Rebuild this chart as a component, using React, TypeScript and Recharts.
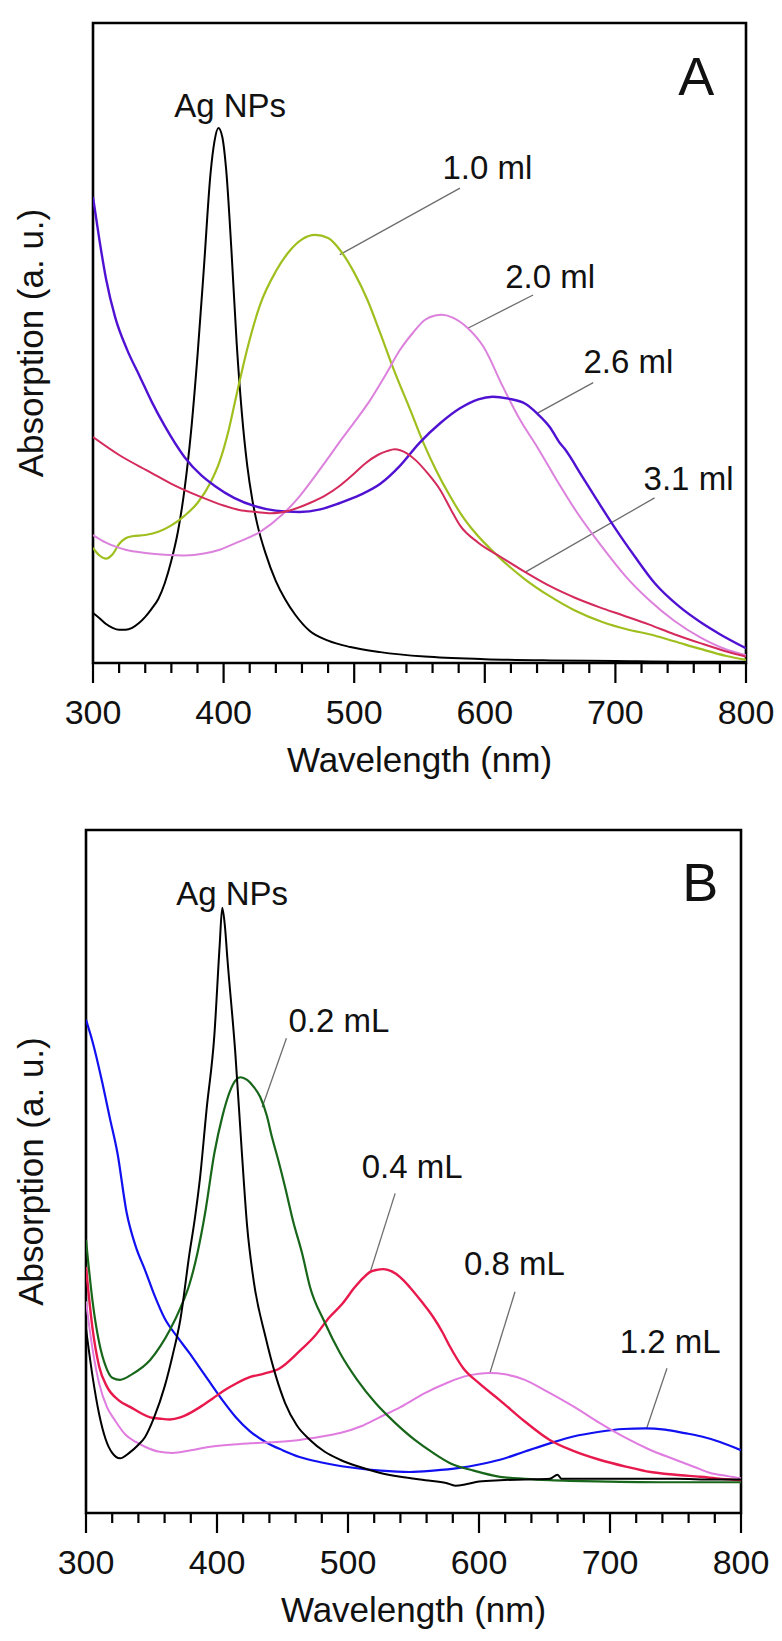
import React from 'react'
import { LineChart, Line, XAxis, YAxis, ReferenceArea, ReferenceLine, ReferenceDot } from 'recharts'

const FONT = '"Liberation Sans", Arial, Helvetica, sans-serif'

// x axis ticks (nm)
const MAJOR_TICKS = [300, 400, 500, 600, 700, 800]
const ALL_TICKS = [
  300, 320, 340, 360, 380, 400, 420, 440, 460, 480, 500, 520, 540, 560, 580, 600,
  620, 640, 660, 680, 700, 720, 740, 760, 780, 800,
]

// ---- panel A : spectra (wavelength nm / absorption a.u.) ----
const A_AG_NM = [300, 305, 310, 315, 320, 325, 330, 335, 340, 345, 350, 355, 360, 365, 370, 375, 380, 385, 390, 393, 396, 399, 402, 406, 410, 414, 418, 422, 426, 432, 440, 447, 455, 466, 480, 497, 520, 554, 600, 650, 700, 750, 800]
const A_AG_ABS = [0.078, 0.07, 0.061, 0.055, 0.052, 0.052, 0.055, 0.062, 0.072, 0.085, 0.1, 0.125, 0.16, 0.205, 0.27, 0.36, 0.48, 0.62, 0.765, 0.815, 0.836, 0.822, 0.77, 0.645, 0.5, 0.39, 0.31, 0.255, 0.215, 0.172, 0.128, 0.1, 0.075, 0.05, 0.035, 0.025, 0.017, 0.01, 0.006, 0.004, 0.003, 0.002, 0.002]

const A_10_NM = [300, 305, 310, 315, 320, 325, 330, 340, 350, 360, 370, 380, 390, 397, 404, 410, 418, 428, 440, 451, 460, 470, 480, 490, 500, 510, 520, 530, 543, 553, 563, 573, 582, 592, 610, 630, 650, 669, 690, 710, 726, 745, 765, 785, 800]
const A_10_ABS = [0.18, 0.168, 0.163, 0.17, 0.186, 0.195, 0.198, 0.2, 0.205, 0.215, 0.23, 0.25, 0.282, 0.315, 0.365, 0.42, 0.49, 0.56, 0.612, 0.645, 0.662, 0.669, 0.664, 0.643, 0.61, 0.568, 0.515, 0.46, 0.395, 0.344, 0.3, 0.262, 0.232, 0.205, 0.167, 0.132, 0.104, 0.082, 0.064, 0.052, 0.045, 0.034, 0.022, 0.011, 0.005]

const A_20_NM = [300, 310, 325, 340, 355, 370, 385, 397, 410, 428, 445, 458, 470, 480, 489, 500, 512, 524, 535, 545, 554, 562, 567, 575, 586, 599, 614, 627, 640, 655, 671, 690, 708, 726, 745, 765, 785, 800]
const A_20_ABS = [0.2, 0.188, 0.177, 0.172, 0.169, 0.168, 0.171, 0.177, 0.188, 0.205, 0.232, 0.26, 0.292, 0.32, 0.346, 0.376, 0.41, 0.45, 0.489, 0.516, 0.536, 0.543, 0.544, 0.54, 0.525, 0.494, 0.431, 0.38, 0.338, 0.286, 0.234, 0.181, 0.135, 0.098, 0.066, 0.04, 0.021, 0.012]

const A_26_NM = [300, 305, 310, 317, 326, 336, 345, 355, 370, 383, 393, 408, 424, 440, 458, 474, 489, 505, 520, 535, 550, 566, 581, 595, 606, 618, 631, 640, 650, 657, 661, 675, 688, 700, 715, 730, 749, 765, 780, 800]
const A_26_ABS = [0.728, 0.66, 0.6, 0.54, 0.49, 0.447, 0.408, 0.37, 0.322, 0.293, 0.277, 0.258, 0.245, 0.238, 0.236, 0.24, 0.25, 0.263, 0.28, 0.308, 0.344, 0.375, 0.398, 0.412, 0.416, 0.413, 0.405, 0.39, 0.368, 0.345, 0.335, 0.29, 0.248, 0.21, 0.166, 0.125, 0.088, 0.064, 0.045, 0.023]

const A_31_NM = [300, 320, 344, 362, 382, 400, 412, 425, 436, 450, 466, 478, 489, 500, 508, 518, 525, 531, 540, 547, 556, 566, 574, 581, 595, 612, 631, 650, 669, 688, 705, 726, 745, 765, 785, 800]
const A_31_ABS = [0.353, 0.325, 0.298, 0.278, 0.26, 0.246, 0.239, 0.236, 0.234, 0.238, 0.25, 0.262, 0.277, 0.296, 0.311, 0.325, 0.331, 0.334, 0.328, 0.317, 0.297, 0.27, 0.24, 0.215, 0.188, 0.166, 0.142, 0.12, 0.102, 0.087, 0.075, 0.06, 0.045, 0.031, 0.018, 0.01]

// ---- panel B ----
const B_AG_NM = [300, 305, 310, 315, 320, 326, 333, 340, 345, 352, 360, 366, 372, 379, 383, 387, 392, 398, 402, 404, 406, 408, 414, 419, 423, 428, 437, 445, 452, 461, 471, 482, 494, 508, 524, 540, 559, 575, 582, 590, 600, 616, 635, 654, 660, 663, 690, 720, 750, 780, 800]
const B_AG_ABS = [0.27, 0.2, 0.145, 0.108, 0.088, 0.08, 0.088, 0.1, 0.111, 0.14, 0.185, 0.23, 0.283, 0.38, 0.43, 0.49, 0.59, 0.7, 0.83, 0.886, 0.86, 0.81, 0.673, 0.527, 0.42, 0.34, 0.258, 0.2, 0.161, 0.128, 0.107, 0.09, 0.078, 0.068, 0.059, 0.053, 0.048, 0.044, 0.04, 0.042, 0.046, 0.048, 0.049, 0.05, 0.056, 0.05, 0.05, 0.05, 0.05, 0.049, 0.049]

const B_02_NM = [300, 305, 310, 315, 320, 326, 335, 349, 357, 364, 372, 379, 385, 391, 398, 404, 410, 414, 418, 423, 428, 433, 438, 442, 447, 452, 458, 465, 471, 482, 494, 507, 521, 536, 551, 565, 578, 596, 616, 635, 654, 700, 750, 800]
const B_02_ABS = [0.4, 0.31, 0.25, 0.215, 0.198, 0.195, 0.203, 0.224, 0.245, 0.268, 0.3, 0.335, 0.38, 0.44, 0.527, 0.58, 0.618, 0.633, 0.638, 0.634, 0.624, 0.609, 0.582, 0.55, 0.515, 0.477, 0.428, 0.38, 0.331, 0.28, 0.234, 0.195, 0.161, 0.132, 0.107, 0.088, 0.073, 0.062, 0.053, 0.05, 0.048, 0.046, 0.045, 0.045]

const B_04_NM = [300, 305, 310, 316, 325, 334, 342, 349, 357, 364, 372, 380, 387, 397, 406, 415, 425, 436, 448, 463, 475, 486, 496, 505, 512, 517, 522, 527, 533, 540, 547, 556, 565, 572, 578, 588, 600, 616, 635, 654, 672, 692, 712, 731, 750, 769, 785, 800]
const B_04_ABS = [0.36, 0.27, 0.215, 0.185, 0.165, 0.155, 0.146, 0.14, 0.138, 0.137, 0.14, 0.147, 0.155, 0.168, 0.18, 0.19, 0.199, 0.204, 0.212, 0.237, 0.26, 0.287, 0.307, 0.33, 0.345, 0.353, 0.356, 0.357, 0.354, 0.345, 0.331, 0.31, 0.287, 0.265, 0.243, 0.212, 0.19, 0.165, 0.134, 0.107, 0.091, 0.078, 0.068, 0.06, 0.056, 0.053, 0.05, 0.048]

const B_08_NM = [300, 305, 310, 316, 322, 330, 338, 345, 355, 366, 380, 395, 410, 425, 445, 463, 480, 494, 510, 524, 540, 559, 575, 589, 600, 608, 620, 635, 650, 673, 692, 711, 730, 750, 765, 776, 790, 800]
const B_08_ABS = [0.31, 0.24, 0.19, 0.155, 0.136, 0.115, 0.104, 0.097, 0.09, 0.088, 0.092, 0.097, 0.1, 0.102, 0.104, 0.107, 0.112, 0.117, 0.127, 0.14, 0.155, 0.176, 0.19, 0.2, 0.204, 0.205, 0.203, 0.195, 0.18, 0.155, 0.132, 0.111, 0.093, 0.078, 0.067, 0.059, 0.054, 0.051]

const B_12_NM = [300, 305, 312, 318, 324, 331, 338, 345, 352, 360, 370, 379, 387, 395, 405, 414, 425, 437, 450, 463, 480, 501, 525, 547, 565, 585, 600, 616, 635, 654, 672, 692, 710, 727, 742, 757, 770, 784, 800]
const B_12_ABS = [0.722, 0.69, 0.634, 0.58, 0.527, 0.44, 0.39, 0.356, 0.32, 0.285, 0.257, 0.234, 0.212, 0.19, 0.163, 0.141, 0.12, 0.104, 0.092, 0.082, 0.074, 0.067, 0.062, 0.06, 0.062, 0.066, 0.071, 0.078, 0.09, 0.102, 0.112, 0.119, 0.123, 0.124, 0.122, 0.117, 0.112, 0.104, 0.092]

type Pt = { nm: number; v: number }
const zip = (nm: number[], v: number[]): Pt[] => nm.map((x, i) => ({ nm: x, v: v[i] }))

interface Series { key: string; color: string; width: number; data: Pt[] }
interface Note { text: string; nm: number; v: number; size?: number }
interface Leader { from: [number, number]; to: [number, number] }

const SERIES_A: Series[] = [
  { key: 'ag', color: '#000000', width: 2, data: zip(A_AG_NM, A_AG_ABS) },
  { key: 'ml10', color: '#9fbf1f', width: 2.2, data: zip(A_10_NM, A_10_ABS) },
  { key: 'ml20', color: '#dc82dc', width: 2, data: zip(A_20_NM, A_20_ABS) },
  { key: 'ml26', color: '#5012d2', width: 2.4, data: zip(A_26_NM, A_26_ABS) },
  { key: 'ml31', color: '#d42a5c', width: 2, data: zip(A_31_NM, A_31_ABS) },
]

const SERIES_B: Series[] = [
  { key: 'ml12', color: '#1010f0', width: 2.2, data: zip(B_12_NM, B_12_ABS) },
  { key: 'ml08', color: '#e07ce0', width: 2, data: zip(B_08_NM, B_08_ABS) },
  { key: 'ml04', color: '#e8194c', width: 2.4, data: zip(B_04_NM, B_04_ABS) },
  { key: 'ml02', color: '#17661a', width: 2.2, data: zip(B_02_NM, B_02_ABS) },
  { key: 'ag', color: '#000000', width: 2, data: zip(B_AG_NM, B_AG_ABS) },
]

const NOTES_A: Note[] = [
  { text: 'Ag NPs', nm: 405, v: 0.872 },
  { text: '1.0 ml', nm: 602, v: 0.775 },
  { text: '2.0 ml', nm: 650, v: 0.605 },
  { text: '2.6 ml', nm: 710, v: 0.472 },
  { text: '3.1 ml', nm: 756, v: 0.289 },
  { text: 'A', nm: 762, v: 0.918, size: 54 },
]
const LEADERS_A: Leader[] = [
  { from: [581, 0.742], to: [489, 0.638] },
  { from: [637, 0.575], to: [587, 0.523] },
  { from: [683, 0.438], to: [640, 0.39] },
  { from: [730, 0.258], to: [631, 0.142] },
]

const NOTES_B: Note[] = [
  { text: 'Ag NPs', nm: 411.5, v: 0.908 },
  { text: '0.2 mL', nm: 493, v: 0.722 },
  { text: '0.4 mL', nm: 549, v: 0.508 },
  { text: '0.8 mL', nm: 627, v: 0.366 },
  { text: '1.2 mL', nm: 746, v: 0.252 },
  { text: 'B', nm: 769, v: 0.924, size: 54 },
]
const LEADERS_B: Leader[] = [
  { from: [453, 0.695], to: [434.5, 0.594] },
  { from: [536, 0.468], to: [517, 0.353] },
  { from: [627.5, 0.324], to: [608.5, 0.206] },
  { from: [743.5, 0.212], to: [728, 0.124] },
]

function WaveTick(props: any) {
  const { x, y, payload } = props
  const major = MAJOR_TICKS.includes(payload.value)
  return (
    <g>
      <line x1={x} x2={x} y1={y} y2={y + (major ? 20 : 10)} stroke="#000" strokeWidth={2.2} />
      {major && (
        <text x={x} y={y + 49} textAnchor="middle" dominantBaseline="central" fontSize={34} fontFamily={FONT} fill="#111">
          {payload.value}
        </text>
      )}
    </g>
  )
}

interface PanelProps {
  top: number
  height: number
  marginTop: number
  marginRight: number
  marginBottom: number
  yAxisWidth: number
  series: Series[]
  notes: Note[]
  leaders: Leader[]
}

function Panel({ top, height, marginTop, marginRight, marginBottom, yAxisWidth, series, notes, leaders }: PanelProps) {
  return (
    <div style={{ position: 'absolute', left: 0, top }}>
      <LineChart width={782} height={height} margin={{ top: marginTop, right: marginRight, bottom: marginBottom, left: 0 }}>
        <XAxis
          type="number"
          dataKey="nm"
          domain={[300, 800]}
          ticks={ALL_TICKS}
          interval={0}
          tick={<WaveTick />}
          tickLine={false}
          axisLine={false}
          tickSize={0}
          tickMargin={0}
          height={60}
          allowDataOverflow
          label={{
            content: (p: any) => (
              <text
                x={p.viewBox.x + p.viewBox.width / 2}
                y={p.viewBox.y + 96}
                textAnchor="middle"
                dominantBaseline="central"
                fontSize={35}
                fontFamily={FONT}
                fill="#111"
              >
                Wavelength (nm)
              </text>
            ),
          }}
        />
        <YAxis
          type="number"
          dataKey="v"
          domain={[0, 1]}
          width={yAxisWidth}
          tick={false}
          tickLine={false}
          axisLine={false}
          allowDataOverflow
          label={{
            content: (p: any) => {
              const cx = p.viewBox.x + 30
              const cy = p.viewBox.y + p.viewBox.height / 2
              return (
                <text
                  x={cx}
                  y={cy}
                  transform={`rotate(-90 ${cx} ${cy})`}
                  textAnchor="middle"
                  dominantBaseline="central"
                  fontSize={35}
                  fontFamily={FONT}
                  fill="#111"
                >
                  Absorption (a. u.)
                </text>
              )
            },
          }}
        />
        {leaders.map((l, i) => (
          <ReferenceLine
            key={'l' + i}
            segment={[{ x: l.from[0], y: l.from[1] }, { x: l.to[0], y: l.to[1] }]}
            stroke="#6e6e6e"
            strokeWidth={1.3}
            ifOverflow="visible"
          />
        ))}
        {series.map((s) => (
          <Line
            key={s.key}
            data={s.data}
            dataKey="v"
            type="monotone"
            stroke={s.color}
            strokeWidth={s.width}
            dot={false}
            activeDot={false}
            isAnimationActive={false}
          />
        ))}
        <ReferenceArea x1={300} x2={800} y1={0} y2={1} fill="none" stroke="#000" strokeWidth={2.6} ifOverflow="visible" />
        {notes.map((n, i) => (
          <ReferenceDot
            key={'n' + i}
            x={n.nm}
            y={n.v}
            r={0}
            fill="none"
            stroke="none"
            ifOverflow="visible"
            label={{ value: n.text, position: 'center', fontSize: n.size ?? 33, fontFamily: FONT, fill: '#111' }}
          />
        ))}
      </LineChart>
    </div>
  )
}

export default function App() {
  return (
    <div style={{ position: 'absolute', left: 0, top: 0, width: 782, height: 1641, background: '#fff' }}>
      <Panel
        top={0}
        height={800}
        marginTop={23}
        marginRight={36}
        marginBottom={77}
        yAxisWidth={93}
        series={SERIES_A}
        notes={NOTES_A}
        leaders={LEADERS_A}
      />
      <Panel
        top={800}
        height={841}
        marginTop={30}
        marginRight={41}
        marginBottom={68}
        yAxisWidth={86}
        series={SERIES_B}
        notes={NOTES_B}
        leaders={LEADERS_B}
      />
    </div>
  )
}
